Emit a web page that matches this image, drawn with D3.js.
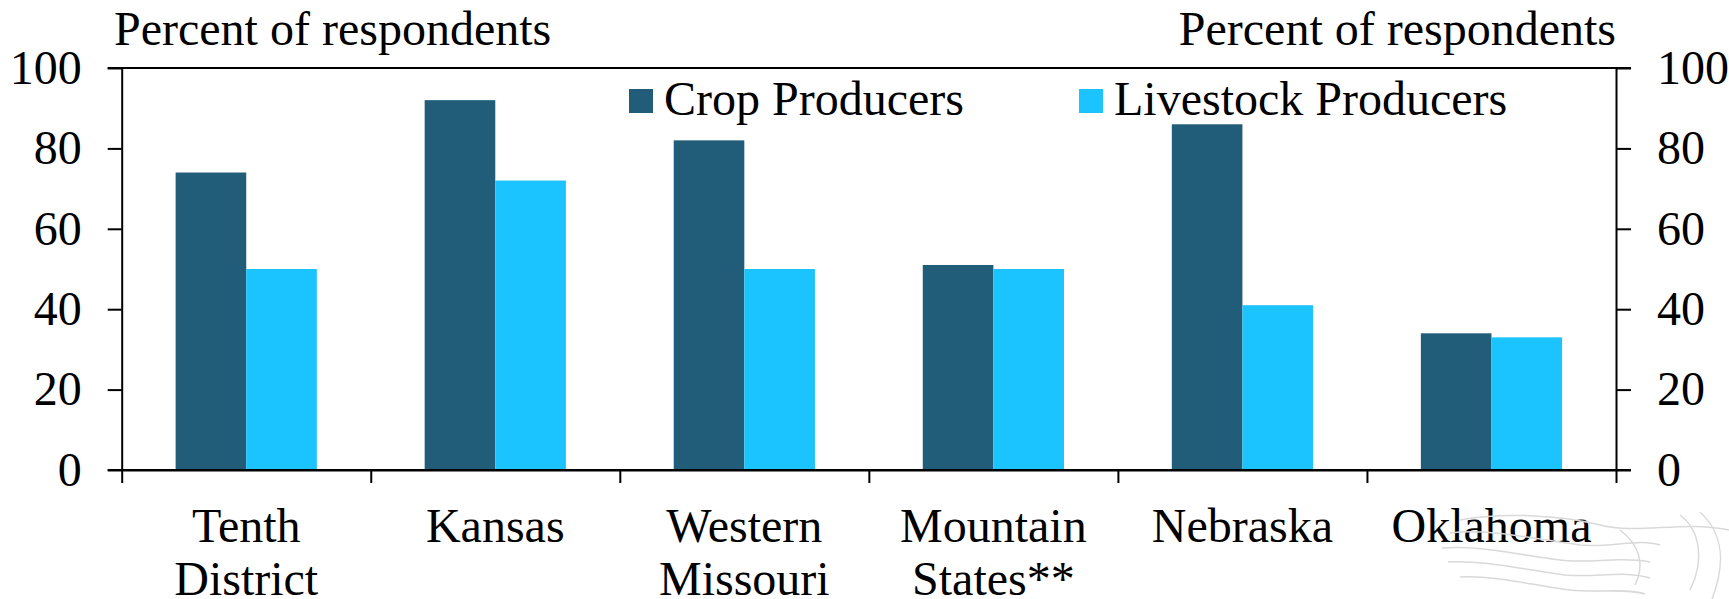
<!DOCTYPE html>
<html>
<head>
<meta charset="utf-8">
<script src="https://cdn.jsdelivr.net/npm/d3@7"></script>
<style>
  html, body { margin: 0; padding: 0; background: #ffffff; }
  svg { display: block; }
  text { font-family: "Liberation Serif", "Times New Roman", serif; fill: #000; }
</style>
</head>
<body>
<svg id="chart" width="1729" height="599"></svg>
<script>
// Survey results by region
const categories = ["Tenth District", "Kansas", "Western Missouri", "Mountain States**", "Nebraska", "Oklahoma"];
const categoryLines = [["Tenth", "District"], ["Kansas"], ["Western", "Missouri"], ["Mountain", "States**"], ["Nebraska"], ["Oklahoma"]];
const seriesNames = ["Crop Producers", "Livestock Producers"];
const cropProducers = [74, 92, 82, 51, 86, 34];
const livestockProducers = [50, 72, 50, 50, 41, 33];
const yTicks = [0, 20, 40, 60, 80, 100];
const axisTitle = "Percent of respondents";

const colors = ["#215d78", "#1bc4ff"];
const fontSize = 48;

const svg = d3.select("#chart");
const plotLeft = 121.7, plotRight = 1616, plotTop = 68, plotBottom = 470;

const y = d3.scaleLinear().domain([0, 100]).range([plotBottom, plotTop]);
const x = d3.scaleBand().domain(categories).range([plotLeft, plotRight])
  .paddingInner(0.433).paddingOuter(0.2165);
const xSub = d3.scaleBand().domain(seriesNames).range([0, x.bandwidth()]);
const xEdges = d3.scaleLinear().domain([0, categories.length]).range([plotLeft, plotRight]);

// Bars
const series = [cropProducers, livestockProducers];
seriesNames.forEach((name, si) => {
  svg.append("g").selectAll("rect")
    .data(categories.map((c, i) => ({ c, v: series[si][i] })))
    .join("rect")
    .attr("x", d => x(d.c) + xSub(name))
    .attr("y", d => y(d.v))
    .attr("width", xSub.bandwidth())
    .attr("height", d => y(0) - y(d.v))
    .attr("fill", colors[si]);
});

// Left axis
const gl = svg.append("g").attr("transform", `translate(${plotLeft},0)`)
  .call(d3.axisLeft(y).tickValues(yTicks).tickSize(14).tickSizeOuter(0).tickPadding(26));
// Right axis
const gr = svg.append("g").attr("transform", `translate(${plotRight},0)`)
  .call(d3.axisRight(y).tickValues(yTicks).tickSize(15).tickSizeOuter(0).tickPadding(26));
[gl, gr].forEach(g => {
  g.selectAll("path, line").attr("stroke", "#000").attr("stroke-width", 2);
  g.selectAll("text").style("font-size", fontSize + "px")
    .style("font-family", "'Liberation Serif', 'Times New Roman', serif").attr("fill", "#000");
});

// Bottom axis: ticks at category boundaries
const gb = svg.append("g").attr("transform", `translate(0,${plotBottom})`)
  .call(d3.axisBottom(xEdges).tickValues(d3.range(categories.length + 1)).tickFormat("").tickSize(13).tickSizeOuter(0));
gb.selectAll("path, line").attr("stroke", "#000").attr("stroke-width", 2);

// Top frame line and baseline extending across both tick sides
svg.append("line").attr("x1", plotLeft - 14).attr("x2", plotRight + 15).attr("y1", y(100)).attr("y2", y(100))
  .attr("stroke", "#000").attr("stroke-width", 2);
svg.append("line").attr("x1", plotLeft - 14).attr("x2", plotRight + 15).attr("y1", y(0)).attr("y2", y(0))
  .attr("stroke", "#000").attr("stroke-width", 2);

// Category labels
const labels = svg.append("g").selectAll("text").data(categories).join("text")
  .attr("text-anchor", "middle")
  .style("font-size", fontSize + "px");
labels.each(function(c, i) {
  const t = d3.select(this);
  categoryLines[i].forEach((line, li) => {
    t.append("tspan").attr("x", x(c) + x.bandwidth() / 2).attr("y", 542 + li * 53).text(line);
  });
});

// Axis titles
svg.append("text").attr("x", 114).attr("y", 45).style("font-size", fontSize + "px").text(axisTitle);
svg.append("text").attr("x", plotRight).attr("y", 45).attr("text-anchor", "end")
  .style("font-size", fontSize + "px").text(axisTitle);

// Legend
const legendX = [629, 1079];
seriesNames.forEach((name, si) => {
  svg.append("rect").attr("x", legendX[si]).attr("y", 89).attr("width", 24).attr("height", 24).attr("fill", colors[si]);
  svg.append("text").attr("x", legendX[si] + 35).attr("y", 115).style("font-size", fontSize + "px").text(name);
});

// Faint emblem sketch in the lower right corner
const emblem = svg.append("g").attr("fill", "none").attr("stroke", "#d9d9d9").attr("stroke-width", 1.5);
const strokes = [
  "M1460,520 C1500,512 1560,515 1600,525 C1640,535 1680,520 1729,530",
  "M1450,533 C1490,528 1540,540 1580,545 C1610,548 1640,538 1660,545",
  "M1442,548 C1480,545 1520,555 1560,560 C1590,564 1620,556 1650,562",
  "M1448,562 C1485,560 1525,570 1565,575 C1595,578 1625,570 1650,578",
  "M1460,577 C1495,575 1530,585 1570,590 C1600,593 1625,588 1645,594",
  "M1680,515 C1700,530 1705,560 1690,590",
  "M1700,512 C1725,535 1725,565 1712,599",
  "M1620,530 C1640,545 1645,565 1635,585"
];
emblem.selectAll("path").data(strokes).join("path").attr("d", d => d);
</script>
</body>
</html>
